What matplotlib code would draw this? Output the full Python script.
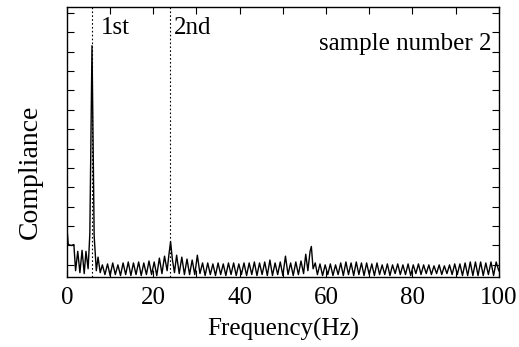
import matplotlib.pyplot as plt
from matplotlib.ticker import MultipleLocator

plt.rcParams['font.family'] = ['Liberation Serif', 'DejaVu Serif']

# frequency (Hz) and compliance (arbitrary units)
freq = [
    0.0, 0.3, 1.0, 1.6, 2.0, 2.5, 3.0, 3.5, 4.0, 4.4, 4.9, 5.3, 5.8, 6.3, 6.8, 7.2, 7.7,
    8.2, 8.8, 9.4, 10.0, 10.6, 11.2, 11.8, 12.4, 13.0, 13.6, 14.2, 14.8, 15.4, 16.0,
    16.6, 17.2, 17.8, 18.4, 19.0, 19.6, 20.2, 20.8,
    21.4, 22.0, 22.6, 23.2, 23.6, 24.0, 24.4, 24.9, 25.4, 26.0, 26.6, 27.2, 27.8, 28.4,
    29.0, 29.6, 30.2, 30.8, 31.4, 32.0,
    32.6, 33.2, 33.8, 34.4, 35.0, 35.6, 36.2, 36.8, 37.4, 38.0, 38.6, 39.2, 39.8, 40.4,
    41.0, 41.6, 42.2, 42.8, 43.4, 44.0, 44.6, 45.2, 45.8, 46.4, 47.0, 47.6, 48.2, 48.8,
    49.4, 50.0, 50.6, 51.2, 51.8, 52.4, 53.0, 53.6, 54.2, 54.8,
    55.3, 55.8, 56.3, 56.6, 57.0, 57.5, 58.0, 58.6, 59.2,
    59.8, 60.4, 61.0, 61.6, 62.2, 62.8, 63.4, 64.0, 64.6, 65.2, 65.8, 66.4, 67.0, 67.6,
    68.2, 68.8, 69.4, 70.0, 70.6, 71.2, 71.8, 72.4, 73.0, 73.6, 74.2, 74.8, 75.4, 76.0,
    76.6, 77.2, 77.8, 78.4, 79.0, 79.6, 80.2, 80.8, 81.4, 82.0, 82.6, 83.2, 83.8, 84.4,
    85.0, 85.6, 86.2, 86.8, 87.4, 88.0, 88.6, 89.2, 89.8, 90.4, 91.0, 91.6, 92.2, 92.8,
    93.4, 94.0, 94.6, 95.2, 95.8, 96.4, 97.0, 97.6, 98.2, 98.8, 99.4, 100.0,
]
compliance = [
    1.9, 1.05, 1.0, 1.05, -0.3, 0.7, -0.4, 0.75, -0.45, 0.7, -0.2, 1.6, 11.3, 1.5, -0.3, 0.4, -0.4,
    0.0, -0.5, 0.05, -0.55, 0.1, -0.5, 0.0, -0.55, 0.1, -0.5, 0.15, -0.55, 0.1, -0.5,
    0.15, -0.55, 0.1, -0.5, 0.2, -0.5, 0.15, -0.55,
    0.35, -0.45, 0.45, -0.3, 0.5, 1.2, 0.3, -0.4, 0.5, -0.45, 0.4, -0.5, 0.3, -0.5,
    0.25, -0.5, 0.5, -0.45, 0.1, -0.55,
    0.1, -0.5, 0.05, -0.55, 0.1, -0.5, 0.05, -0.55, 0.1, -0.5, 0.1, -0.55, 0.05, -0.5,
    0.1, -0.55, 0.1, -0.5, 0.15, -0.55, 0.1, -0.5, 0.15, -0.55, 0.25, -0.55, 0.1, -0.5,
    0.15, -0.55, 0.45, -0.5, 0.1, -0.55, 0.15, -0.5, 0.2, -0.45,
    0.55, -0.3, 0.7, 0.95, -0.2, 0.1, -0.5, 0.05, -0.55,
    0.0, -0.5, 0.05, -0.55, 0.0, -0.5, 0.1, -0.55, 0.15, -0.5, 0.1, -0.55, 0.15, -0.5,
    0.1, -0.55, 0.1, -0.5, 0.05, -0.55, 0.1, -0.5, 0.0, -0.5, 0.05, -0.55, 0.0, -0.45,
    0.05, -0.5, 0.0, -0.5, 0.05, -0.55, 0.0, -0.45, 0.05, -0.5, 0.0, -0.45, 0.0, -0.5,
    -0.05, -0.45, 0.0, -0.5, -0.05, -0.45, 0.0, -0.5, 0.05, -0.5, 0.05, -0.55, 0.1, -0.55,
    0.15, -0.55, 0.15, -0.55, 0.15, -0.55, 0.1, -0.5, 0.15, -0.55, 0.15, -0.3,
]

mode_freqs = [5.8, 23.9]
mode_labels = ["1st", "2nd"]
label_x = [7.8, 24.8]

fig = plt.figure(figsize=(5.19, 3.47), dpi=100)
ax = fig.add_axes([0.129, 0.202, 0.832, 0.778])

ax.plot(freq, compliance, color='black', linewidth=1.0)

# dotted markers for the resonance modes
for f in mode_freqs:
    ax.axvline(f, color='black', linewidth=0.8, linestyle=(0, (1.5, 2)))
for x, lab in zip(label_x, mode_labels):
    ax.text(x, 12.2, lab, fontsize=18, va='center', ha='left')

ax.text(98.3, 11.4, "sample number 2", fontsize=18, va='center', ha='right')

ax.set_xlim(0, 100)
ax.set_ylim(-0.62, 13.3)
ax.xaxis.set_major_locator(MultipleLocator(20))
ax.xaxis.set_minor_locator(MultipleLocator(10))
ax.yaxis.set_major_locator(MultipleLocator(1))
ax.set_yticklabels([])
ax.tick_params(which='both', direction='in', top=True, right=True,
               labelsize=18, length=5, width=0.8)
ax.tick_params(axis='x', pad=7)
for s in ax.spines.values():
    s.set_linewidth(1.0)

ax.set_xlabel("Frequency(Hz)", fontsize=18, labelpad=7)
ax.set_ylabel("Compliance", fontsize=20)
ax.yaxis.set_label_coords(-0.055, 0.39)

fig.savefig("out.png", dpi=100)
